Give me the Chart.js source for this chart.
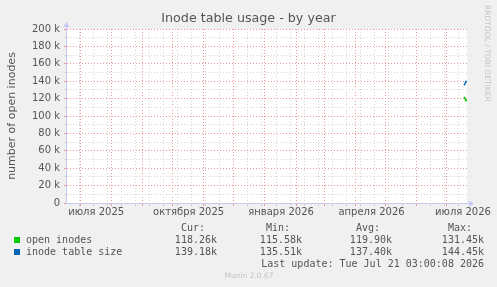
<!DOCTYPE html>
<html>
<head>
<meta charset="utf-8">
<script src="https://cdn.jsdelivr.net/npm/chart.js@4"></script>
<style>
  body { margin:0; background:#f0f0f0; }
  canvas { display:block; }
</style>
</head>
<body>
<canvas id="chart" width="497" height="287"></canvas>
<script>
// ---- Data ----
// x values are days counted from 1 Jul 2025
const xMin = -14, xMax = 385;
const seriesNames = ['open inodes', 'inode table size'];
const seriesColors = ['#00cc00', '#0066b3'];
const days = [382, 383, 384, 385];
const openInodes = [122000, 120300, 117600, 118260];
const tableSize = [135300, 136900, 139600, 139180];

const monthStarts = [0, 31, 62, 92, 123, 153, 184, 215, 243, 274, 304, 335, 365];
const labelDays = [16, 108, 200, 290, 381];
const labelText = ['июля 2025', 'октября 2025', 'января 2026', 'апреля 2026', 'июля 2026'];
const minorDays = [];
for (let d = -1; d <= xMax; d += 14) minorDays.push(d);

const yTicks = [0, 20000, 40000, 60000, 80000, 100000, 120000, 140000, 160000, 180000, 200000];
const yTickLabels = ['0', '20 k', '40 k', '60 k', '80 k', '100 k', '120 k', '140 k', '160 k', '180 k', '200 k'];

const statHead = ['Cur:', 'Min:', 'Avg:', 'Max:'];
const statOpen = ['118.26k', '115.58k', '119.90k', '131.45k'];
const statSize = ['139.18k', '135.51k', '137.40k', '144.45k'];
const lastUpdate = 'Last update: Tue Jul 21 03:00:08 2026';
const titleText = 'Inode table usage - by year';

const RED = 'rgb(238,150,150)', GREY = 'rgb(212,212,212)', AXIS = '#c8c8f4';
const TXT = '#555555';

// ---- Plugin: background, arrows, title, legend, side texts ----
const munin = {
  id: 'munin',
  beforeDraw(c) {
    const ctx = c.ctx, a = c.chartArea;
    ctx.save();
    ctx.fillStyle = '#f0f0f0';
    ctx.fillRect(0, 0, c.width, c.height);
    ctx.fillStyle = '#ffffff';
    ctx.fillRect(a.left, a.top, a.right - a.left, a.bottom - a.top);
    ctx.restore();
  },
  afterDraw(c) {
    const ctx = c.ctx, a = c.chartArea;
    ctx.save();
    // axis extensions + arrows
    ctx.strokeStyle = AXIS; ctx.fillStyle = AXIS; ctx.lineWidth = 1;
    ctx.beginPath();
    ctx.moveTo(a.left + 0.5, a.top); ctx.lineTo(a.left + 0.5, a.top - 4);
    ctx.moveTo(a.right, a.bottom + 0.5); ctx.lineTo(a.right + 4, a.bottom + 0.5);
    ctx.stroke();
    ctx.beginPath();
    ctx.moveTo(a.left - 2.5, a.top - 2); ctx.lineTo(a.left + 3.5, a.top - 2); ctx.lineTo(a.left + 0.5, a.top - 7);
    ctx.closePath(); ctx.fill();
    ctx.beginPath();
    ctx.moveTo(a.right + 2, a.bottom - 2.5); ctx.lineTo(a.right + 2, a.bottom + 3.5); ctx.lineTo(a.right + 7, a.bottom + 0.5);
    ctx.closePath(); ctx.fill();

    // title
    ctx.fillStyle = TXT;
    ctx.font = '12.7px "DejaVu Sans"';
    ctx.textAlign = 'center';
    ctx.textBaseline = 'middle';
    ctx.fillText(titleText, 248.5, 19);

    // side text
    ctx.textAlign = 'left';
    ctx.fillStyle = '#c4c4c4';
    ctx.font = '7.5px "DejaVu Sans"';
    ctx.translate(487, 5);
    ctx.rotate(Math.PI / 2);
    ctx.fillText('RRDTOOL / TOBI OETIKER', 0, 0);
    ctx.setTransform(1, 0, 0, 1, 0, 0);

    // legend
    ctx.font = '10px "DejaVu Sans Mono"';
    ctx.fillStyle = TXT;
    const colRight = [205, 290, 380, 472];
    ctx.textAlign = 'right';
    statHead.forEach((s, i) => ctx.fillText(s, colRight[i], 228));
    const rows = [statOpen, statSize];
    rows.forEach((r, j) => {
      const y = 240 + j * 12;
      ctx.fillStyle = seriesColors[j];
      ctx.fillRect(14, y - 3, 6, 6);
      ctx.fillStyle = TXT;
      ctx.textAlign = 'left';
      ctx.fillText(seriesNames[j], 26, y);
      ctx.textAlign = 'right';
      r.forEach((s, i) => ctx.fillText(s, colRight[i] + 12, y));
    });
    ctx.textAlign = 'right';
    ctx.fillText(lastUpdate, 484, 264);
    ctx.textAlign = 'center';
    ctx.fillStyle = '#c4c4c4';
    ctx.font = '7.5px "DejaVu Sans"';
    ctx.fillText('Munin 2.0.67', 249, 276);
    ctx.restore();
  }
};

new Chart(document.getElementById('chart'), {
  type: 'line',
  data: {
    datasets: [
      { label: seriesNames[0], data: days.map((d, i) => ({ x: d, y: openInodes[i] })),
        borderColor: seriesColors[0], borderWidth: 1.5, pointRadius: 0, tension: 0 },
      { label: seriesNames[1], data: days.map((d, i) => ({ x: d, y: tableSize[i] })),
        borderColor: seriesColors[1], borderWidth: 1.5, pointRadius: 0, tension: 0 }
    ]
  },
  options: {
    responsive: false,
    animation: false,
    devicePixelRatio: 1,
    layout: { padding: { left: 0, right: 30, top: 29, bottom: 0 } },
    plugins: {
      legend: { display: false },
      tooltip: { enabled: false },
      title: { display: false }
    },
    scales: {
      x: {
        type: 'linear', min: xMin, max: xMax,
        afterFit: s => { s.height = 84; },
        afterBuildTicks: s => {
          const vals = [...new Set([...minorDays, ...monthStarts, ...labelDays])].sort((p, q) => p - q);
          s.ticks = vals.map(v => ({ value: v }));
        },
        ticks: {
          autoSkip: false, maxRotation: 0, padding: 0, color: TXT,
          font: { family: 'DejaVu Sans', size: 10 },
          callback: v => { const i = labelDays.indexOf(v); return i >= 0 ? labelText[i] : ''; }
        },
        grid: {
          tickLength: 3,
          color: ctx => {
            const v = ctx.tick && ctx.tick.value;
            if (monthStarts.includes(v)) return RED;
            if (minorDays.includes(v)) return GREY;
            return 'rgba(0,0,0,0)';
          }
        },
        border: { color: AXIS, dash: [1, 2], dashOffset: 0 }
      },
      y: {
        min: 0, max: 200000,
        afterFit: s => { s.width = 66; },
        afterBuildTicks: s => {
          const vals = [];
          for (let v = 0; v <= 200000; v += 10000) vals.push(v);
          s.ticks = vals.map(v => ({ value: v }));
        },
        ticks: {
          autoSkip: false, padding: 4, color: TXT,
          font: { family: 'DejaVu Sans', size: 10 },
          callback: v => { const i = yTicks.indexOf(v); return i >= 0 ? yTickLabels[i] : ''; }
        },
        grid: {
          tickLength: 2,
          color: ctx => {
            const v = ctx.tick && ctx.tick.value;
            return yTicks.includes(v) ? RED : GREY;
          }
        },
        border: { color: AXIS, dash: [1, 2], dashOffset: 0 },
        title: {
          display: true, text: 'number of open inodes', color: TXT,
          font: { family: 'DejaVu Sans', size: 11 }, padding: { top: 6, bottom: 0 }
        }
      }
    }
  },
  plugins: [munin]
});
</script>
</body>
</html>
